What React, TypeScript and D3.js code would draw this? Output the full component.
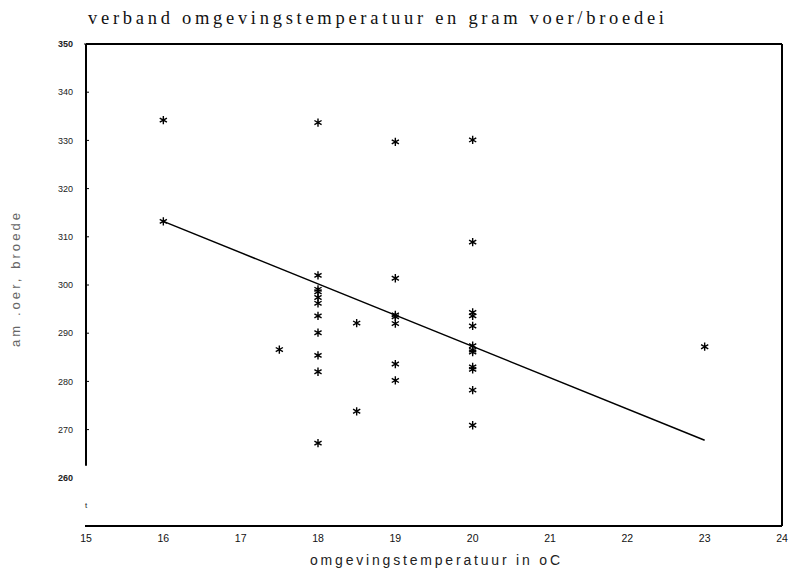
import * as d3 from 'd3';
import React from 'react';

// scatter data: temperature (oC) and gram feed per breeding egg
const temps = [16, 16, 17.5,
  18, 18, 18, 18, 18, 18, 18, 18, 18, 18, 18,
  18.5, 18.5,
  19, 19, 19, 19, 19, 19, 19,
  20, 20, 20, 20, 20, 20, 20, 20, 20, 20, 20, 20,
  23];
const grams = [334.2, 313.2, 286.6,
  333.7, 302.0, 299.1, 298.6, 297.4, 296.2, 293.6, 290.1, 285.4, 282.0, 267.2,
  292.1, 273.8,
  329.7, 301.4, 293.8, 293.4, 292.0, 283.6, 280.2,
  330.1, 308.9, 294.3, 293.6, 291.5, 287.4, 286.5, 286.1, 283.0, 282.5, 278.2, 270.9,
  287.2];

// regression line endpoints
const fitX = [16, 23];
const fitY = [313.2, 267.8];

const xTicks = [15, 16, 17, 18, 19, 20, 21, 22, 23, 24];
const yTicks = [260, 270, 280, 290, 300, 310, 320, 330, 340, 350];

const W = 789;
const H = 569;

export default function App() {
  const x = d3.scaleLinear().domain([15, 24]).range([86, 782]);
  const y = d3.scaleLinear().domain([250, 350]).range([526, 44]);

  const star = d3.symbol().type(d3.symbolAsterisk).size(48)();
  const line = d3.line<number>()
    .x((d) => x(d))
    .y((d, i) => y(fitY[i]));

  const sans = '"Liberation Sans", Arial, sans-serif';

  return (
    <div style={{ position: 'absolute', left: 0, top: 0 }}>
      <svg width={W} height={H} style={{ display: 'block', background: '#fff' }}>
        {/* title */}
        <text x={88} y={24} fontFamily='"Liberation Serif", serif' fontSize={18.5}
          textLength={576} lengthAdjust="spacing" fill="#111">
          verband omgevingstemperatuur en gram voer/broedei
        </text>

        {/* frame */}
        <g stroke="#000" strokeWidth={2} fill="none">
          <line x1={x(15)} x2={x(24)} y1={y(350)} y2={y(350)} />
          <line x1={x(24)} x2={x(24)} y1={y(350)} y2={y(250)} />
          <line x1={x(15) - 1} x2={x(24)} y1={y(250)} y2={y(250)} />
          <line x1={x(15)} x2={x(15)} y1={y(350)} y2={y(262.5)} />
        </g>

        {/* y ticks */}
        {yTicks.map((t, i) => (
          <g key={t}>
            {t > 260 && (
              <line x1={x(15) - (t === 350 ? 2 : 0)} x2={x(15) + 3} y1={y(t)} y2={y(t)}
                stroke="#000" strokeWidth={1} />
            )}
            <text x={73} y={y(t)} dy="0.35em" textAnchor="end" fontFamily={sans}
              fontSize={9} fontWeight={i === 0 || i === yTicks.length - 1 ? 'bold' : 'normal'}
              fill="#222">{t}</text>
          </g>
        ))}

        {/* x ticks */}
        {xTicks.map((t) => (
          <text key={t} x={x(t)} y={542} textAnchor="middle" fontFamily={sans}
            fontSize={10.5} fill="#111">{t}</text>
        ))}

        <text x={86} y={508} fontFamily={sans} fontSize={8} textAnchor="middle" fill="#222">t</text>

        {/* axis titles */}
        <text x={435} y={565} textAnchor="middle" fontFamily={sans} fontSize={14}
          textLength={250} lengthAdjust="spacing" fill="#222">omgevingstemperatuur in oC</text>
        <text transform="translate(15,280) rotate(-90)" textAnchor="middle" dy="0.35em"
          fontFamily={sans} fontSize={13} fill="#666" textLength={134} lengthAdjust="spacing">
          am .oer, broede
        </text>

        {/* regression */}
        <path d={line(fitX) || ''} fill="none" stroke="#000" strokeWidth={1.5} />

        {/* points */}
        {temps.map((t, i) => (
          <path key={i} d={star || ''} transform={`translate(${x(t)},${y(grams[i])})`}
            fill="none" stroke="#000" strokeWidth={1.4} />
        ))}
      </svg>
    </div>
  );
}
